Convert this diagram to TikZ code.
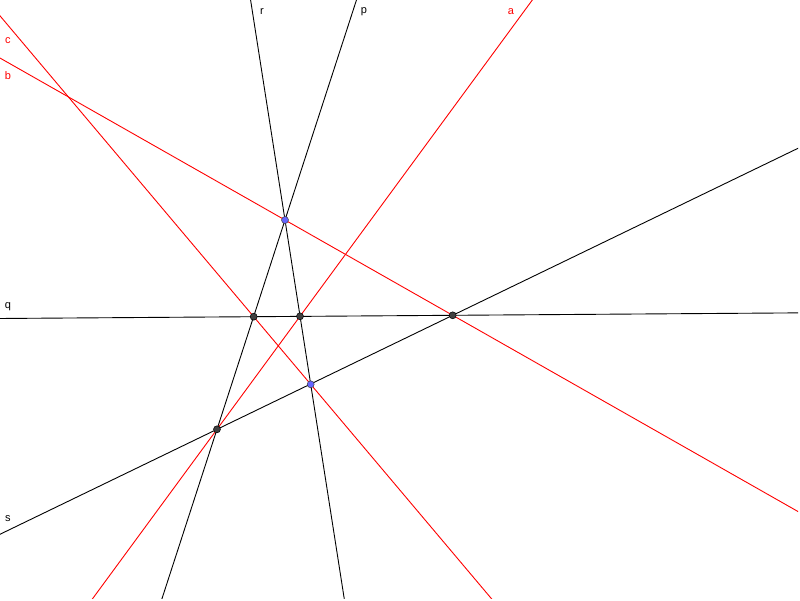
\documentclass[tikz,border=0pt]{standalone}
\usepackage{fontspec}
\setmainfont{Liberation Sans}
\usetikzlibrary{calc}
\definecolor{ptblue}{RGB}{102,102,255}
\definecolor{ptdark}{RGB}{64,64,64}
\begin{document}
\begin{tikzpicture}[x=1pt,y=-1pt,
  blackline/.style={draw=black, line width=0.9pt},
  redline/.style={draw=red, line width=0.9pt},
  dotdark/.style={circle, fill=ptdark, draw=black, line width=0.5pt, inner sep=0pt, minimum size=7pt},
  dotblue/.style={circle, fill=ptblue, draw=ptdark, line width=0.5pt, inner sep=0pt, minimum size=7pt},
  lbl/.style={font=\fontsize{11}{13}\selectfont, inner sep=0pt},
  lblred/.style={lbl, text=red}]
\useasboundingbox (0,0) rectangle (800,600);
\coordinate (P1) at (285,220);
\coordinate (P2) at (310.7,384.3);
\coordinate (Q1) at (253.7,316.7);
\coordinate (Q2) at (300,316.3);
\coordinate (Q3) at (452.7,315.3);
\coordinate (S1) at (217,429.3);
\begin{scope}
\clip (0,0) rectangle (798,598);
% black lines
\draw[blackline] ($(P1)!-3!(P2)$) -- ($(P1)!4!(P2)$); % r
\draw[blackline] ($(P1)!-3!(S1)$) -- ($(P1)!4!(S1)$); % p
\draw[blackline] ($(Q1)!-3!(Q3)$) -- ($(Q1)!4!(Q3)$); % q
\draw[blackline] ($(S1)!-3!(Q3)$) -- ($(S1)!4!(Q3)$); % s
% red lines
\draw[redline] ($(Q2)!-4!(S1)$) -- ($(Q2)!5!(S1)$); % a
\draw[redline] ($(P1)!-3!(Q3)$) -- ($(P1)!4!(Q3)$); % b
\draw[redline] ($(Q1)!-6!(P2)$) -- ($(Q1)!6!(P2)$); % c
\end{scope}
% points
\node[dotblue] (pP1) at (P1) {};
\node[dotblue] (pP2) at (P2) {};
\node[dotdark] (pQ1) at (Q1) {};
\node[dotdark] (pQ2) at (Q2) {};
\node[dotdark] (pQ3) at (Q3) {};
\node[dotdark] (pS1) at (S1) {};
% labels
\node[lbl] (lr) at (262,12) {r};
\node[lbl] (lp) at (364,12) {p};
\node[lblred] (la) at (511,12) {a};
\node[lblred] (lc) at (8,41) {c};
\node[lblred] (lb) at (8,76) {b};
\node[lbl] (lq) at (8,307) {q};
\node[lbl] (ls) at (8,519) {s};
\end{tikzpicture}
\end{document}
